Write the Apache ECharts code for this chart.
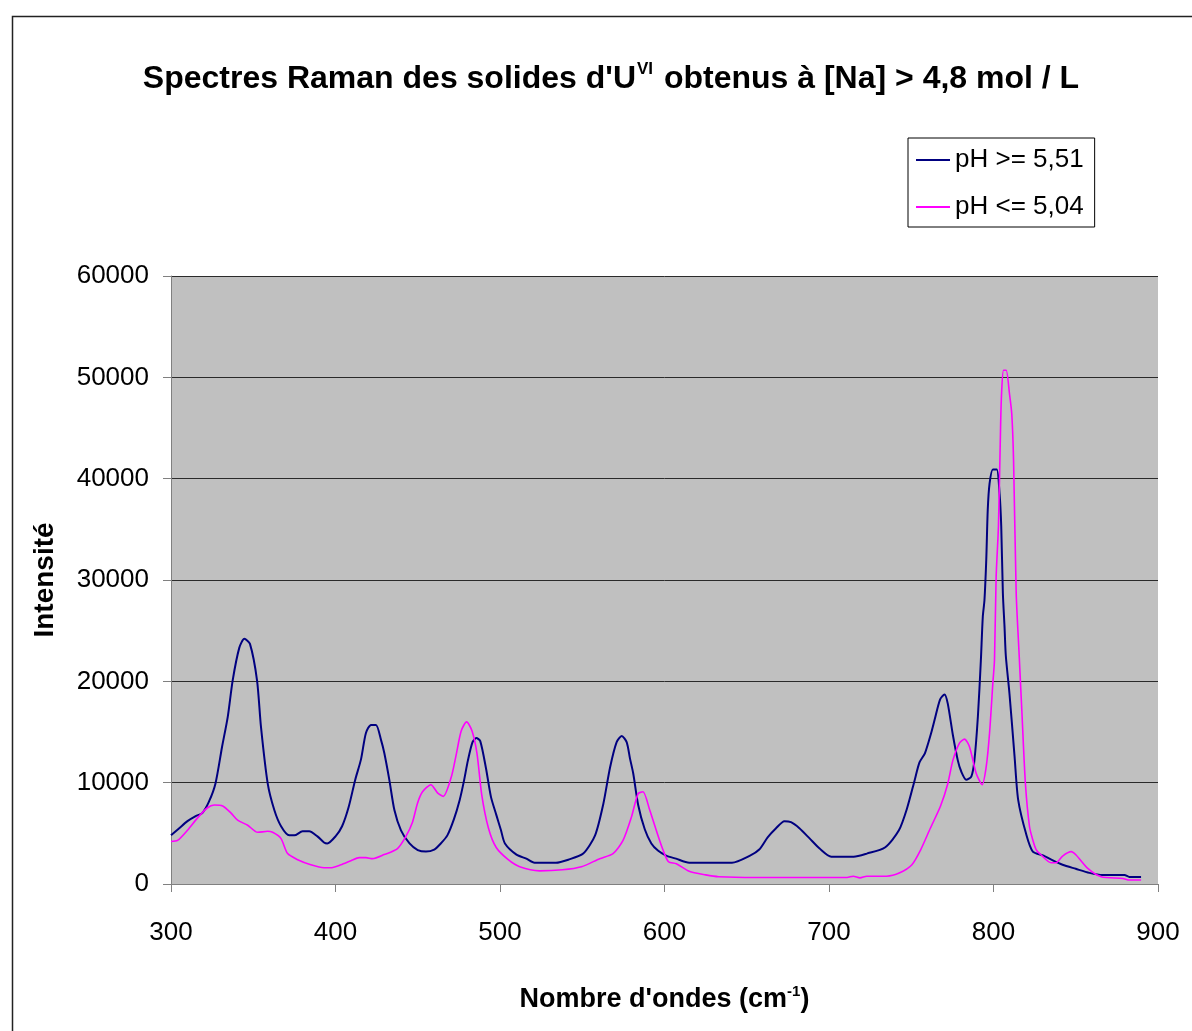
<!DOCTYPE html>
<html>
<head>
<meta charset="utf-8">
<script src="https://cdn.jsdelivr.net/npm/echarts@6/dist/echarts.min.js"></script>
<style>
html,body{margin:0;padding:0;background:#fff;}
#chart{width:1192px;height:1031px;}
</style>
</head>
<body>
<div id="chart"></div>
<script>
// Wavenumbers (cm-1) and intensities, pH >= 5,51
const xHigh = [300,305,310,315,319,323,327,331,334.5,337.5,341.5,344.6,348,352.3,354.7,358.8,362.8,366.9,371.9,375,380,384,389,393,395,400,404,408,412,415.5,418.5,421.6,424.6,427.7,429.7,432.7,435.8,439.8,445,450,455,460,464,468,472,475.5,478,480.5,483.3,485.6,488,491.5,494.5,497.8,500.6,503,510,516,521,534,541.5,550.6,557.8,562.8,566.9,570.9,574,577,579,581,584,588,592,596,601,607,615,641,652,657.6,662.7,667.8,672.9,676.9,682,688.2,694.3,701.4,715,723,734,742.5,747.5,752,755,758.3,762.1,764.2,767.5,770.2,772.2,775.3,778.3,780.4,783.4,786.5,788.4,790.5,792.3,793.5,794.5,795.6,796.5,797.6,799.6,802,803.7,804.7,805.7,806.7,807.5,809.7,812.8,815,819.9,823.9,830.5,834,842,850,858.3,866.4,879.6,882.6,889.7];
const yHigh = [4800,5500,6200,6700,7000,8100,9900,13500,16500,20100,23300,24200,23700,20100,15500,9900,7300,5700,4800,4800,5200,5200,4700,4100,4000,4700,5700,7600,10300,12300,14900,15700,15700,14200,12900,10300,7300,5300,4000,3350,3200,3400,4000,4800,6400,8300,10100,12200,14000,14400,14100,11400,8600,6800,5300,4000,2900,2500,2100,2100,2400,3000,4800,7900,11500,14000,14600,14000,12400,10900,7800,5400,4000,3300,2800,2500,2100,2100,2800,3400,4600,5500,6200,6100,5500,4500,3500,2700,2700,3000,3600,5300,7500,10200,12000,12900,14900,16200,18200,18700,17800,14700,12200,11100,10300,10600,12200,16500,22000,26400,28000,32000,36900,39500,40900,40900,38500,35300,28700,25400,22500,18800,12600,8300,4900,3200,2800,2500,1900,1500,1100,900,900,700,700];

// pH <= 5,04
const xLow = [300,304,310,316,322,326.3,331.4,336.5,340.5,346.6,352.7,358.7,361.8,366.8,370.9,377,385,393,397,403.3,409.4,414.4,418.5,422.5,429.6,437.7,442.8,446.8,449.9,452.9,458,462,465.5,470.3,473.3,476.4,479.7,483,486,488.9,493,497.7,505,512,524,538,549.5,560.6,568.7,574.8,579.9,583.9,586.9,591,595,599,602.4,607.2,615,625,633,655,711,714.7,718.8,722.9,735,743,750.4,755.5,761.6,767.8,772.2,775.3,779.3,782.4,785.4,789.5,793.1,795.6,797.6,799.6,800.6,801.6,803,804.3,804.9,806.1,807.7,809.7,811.1,812.2,813.8,815.6,817.4,819.4,821.9,823.9,825.9,829,835,838,842,847.2,850.2,857.3,865.4,878.6,882.6,889.7];
const yLow = [4200,4300,5300,6500,7500,7800,7700,7000,6300,5800,5100,5200,5100,4500,3000,2400,1900,1600,1600,1900,2300,2600,2600,2500,2900,3500,4700,6100,8000,9100,9800,9000,8650,10500,12700,15100,16000,15100,12900,8800,5500,3600,2400,1700,1300,1400,1700,2500,3000,4300,6600,8900,9100,7300,5300,3400,2200,2000,1250,900,720,640,640,770,600,770,770,1100,1900,3300,5500,7700,9900,12200,13900,14300,13550,10900,9800,11600,14900,19800,22100,30300,35300,45100,48400,50700,50700,48400,46400,41800,28700,22600,16500,9900,5650,4340,3400,2860,2100,2100,2760,3190,2860,1540,720,550,390,390];

const seriesNames = ['pH >= 5,51', 'pH <= 5,04'];
const xTicks = [300, 400, 500, 600, 700, 800, 900];
const yTicks = [0, 10000, 20000, 30000, 40000, 50000, 60000];

const zip = (xs, ys) => xs.map((x, i) => [x, ys[i]]);

const chart = echarts.init(document.getElementById('chart'), null, {renderer: 'canvas'});
const font = 'Liberation Sans, Arial, sans-serif';

chart.setOption({
  animation: false,
  backgroundColor: '#fff',
  graphic: [{
    type: 'rect', left: 10, top: 14, z: -1,
    shape: {width: 1200, height: 1040},
    style: {fill: 'none', stroke: '#222', lineWidth: 1.5}
  }],
  title: {
    left: 606, top: 56, textAlign: 'center',
    text: '{t|Spectres Raman des solides d\'U}{s|VI}{t| obtenus à [Na] > 4,8 mol / L}',
    textStyle: {
      rich: {
        t: {fontFamily: font, fontWeight: 'bold', fontSize: 32, color: '#000'},
        s: {fontFamily: font, fontWeight: 'bold', fontSize: 17, color: '#000', padding: [0, 2, 20, 1]}
      }
    }
  },
  legend: {
    orient: 'vertical', left: 908, top: 138,
    padding: [7, 11, 5, 8], itemGap: 17, itemWidth: 34, itemHeight: 2,
    icon: 'rect',
    backgroundColor: '#fff', borderColor: '#000', borderWidth: 1, borderRadius: 0,
    textStyle: {fontFamily: font, fontSize: 26, color: '#000', lineHeight: 30},
    data: seriesNames
  },
  grid: {left: 171, right: 34, top: 276, bottom: 147, show: true, backgroundColor: '#c0c0c0', borderWidth: 0},
  xAxis: {
    type: 'value', min: xTicks[0], max: xTicks[xTicks.length - 1], interval: 100,
    name: '{a|Nombre d\'ondes (cm}{s|-1}{a|)}',
    nameLocation: 'middle', nameGap: 100,
    nameTextStyle: {
      rich: {
        a: {fontFamily: font, fontWeight: 'bold', fontSize: 27, color: '#000'},
        s: {fontFamily: font, fontWeight: 'bold', fontSize: 15, color: '#000', padding: [0, 0, 17, 0]}
      }
    },
    axisLine: {show: true, lineStyle: {color: '#808080', width: 1}},
    axisTick: {show: true, length: 8, inside: false, lineStyle: {color: '#808080'}},
    axisLabel: {fontFamily: font, fontSize: 26, color: '#000', margin: 36},
    splitLine: {show: false}
  },
  yAxis: {
    type: 'value', min: yTicks[0], max: yTicks[yTicks.length - 1], interval: 10000,
    name: 'Intensité', nameLocation: 'middle', nameGap: 112, nameRotate: 90,
    nameTextStyle: {fontFamily: font, fontWeight: 'bold', fontSize: 28, color: '#000'},
    axisLine: {show: true, lineStyle: {color: '#808080', width: 1}},
    axisTick: {show: true, length: 8, lineStyle: {color: '#808080'}},
    axisLabel: {fontFamily: font, fontSize: 26, color: '#000', margin: 22, formatter: v => String(v)},
    splitLine: {show: true, lineStyle: {color: '#2a2a2a', width: 1}}
  },
  series: [
    {name: seriesNames[0], type: 'line', data: zip(xHigh, yHigh), symbol: 'none', smooth: 0.25,
     lineStyle: {color: '#000080', width: 2}, itemStyle: {color: '#000080'}},
    {name: seriesNames[1], type: 'line', data: zip(xLow, yLow), symbol: 'none', smooth: 0.25,
     lineStyle: {color: '#ff00ff', width: 1.6}, itemStyle: {color: '#ff00ff'}}
  ]
});
</script>
</body>
</html>
